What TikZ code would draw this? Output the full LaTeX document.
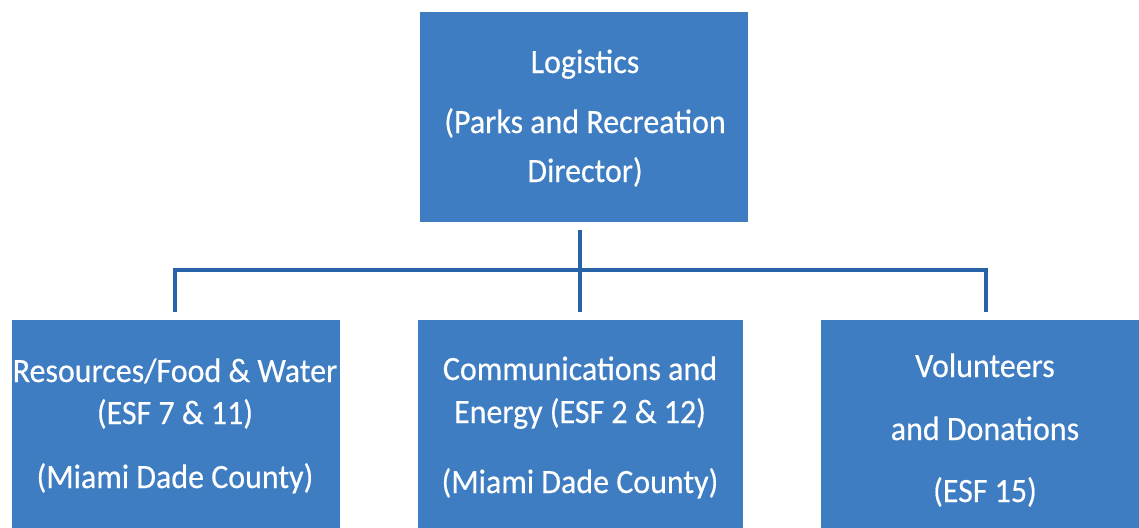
\documentclass[tikz,border=0pt]{standalone}
\usepackage{fontspec}
\setmainfont{Carlito}[FakeStretch=0.94,FakeBold=0.4]
\definecolor{boxblue}{RGB}{62,125,193}
\definecolor{lineblue}{RGB}{40,98,168}
\begin{document}
\begin{tikzpicture}[x=1pt,y=-1pt,
  orgbox/.style={fill=boxblue, draw=none, inner sep=0pt},
  txt/.style={text=white, anchor=base, inner sep=0pt,
    font=\fontsize{34}{40}\selectfont},
  link/.style={draw=lineblue, line width=3.6pt}]
\useasboundingbox[fill=white] (0,0) rectangle (1139,527);
% boxes
\node[orgbox, minimum width=328, minimum height=210] (top) at (584,117) {};
\node[orgbox, minimum width=328, minimum height=222] (res) at (176,431) {};
\node[orgbox, minimum width=325, minimum height=222] (com) at (580.5,431) {};
\node[orgbox, minimum width=338, minimum height=222] (vol) at (990,431) {};
% texts
\node[txt] (top1) at (585,73) {Logistics};
\node[txt] (top2) at (585,133) {(Parks and Recreation};
\node[txt] (top3) at (585,182) {Director)};
\node[txt] (res1) at (175,382) {Resources/Food \& Water};
\node[txt] (res2) at (175,424) {(ESF 7 \& 11)};
\node[txt] (res3) at (175,488) {(Miami Dade County)};
\node[txt] (com1) at (580,380) {Communications and};
\node[txt] (com2) at (580,423) {Energy (ESF 2 \& 12)};
\node[txt] (com3) at (580,493) {(Miami Dade County)};
\node[txt] (vol1) at (985,377) {Volunteers};
\node[txt] (vol2) at (985,440) {and Donations};
\node[txt] (vol3) at (985,502) {(ESF 15)};
% connectors
\coordinate (stemtop) at (580,230);
\coordinate (bar) at (580,270);
\coordinate (barL) at (175,270);
\coordinate (barR) at (986,270);
\coordinate (endL) at (175,312);
\coordinate (endM) at (580,312);
\coordinate (endR) at (986,312);
\draw[link] (stemtop) -- (endM);
\draw[link, line join=miter] (endL) -- (barL) -- (barR) -- (endR);
\end{tikzpicture}
\end{document}
